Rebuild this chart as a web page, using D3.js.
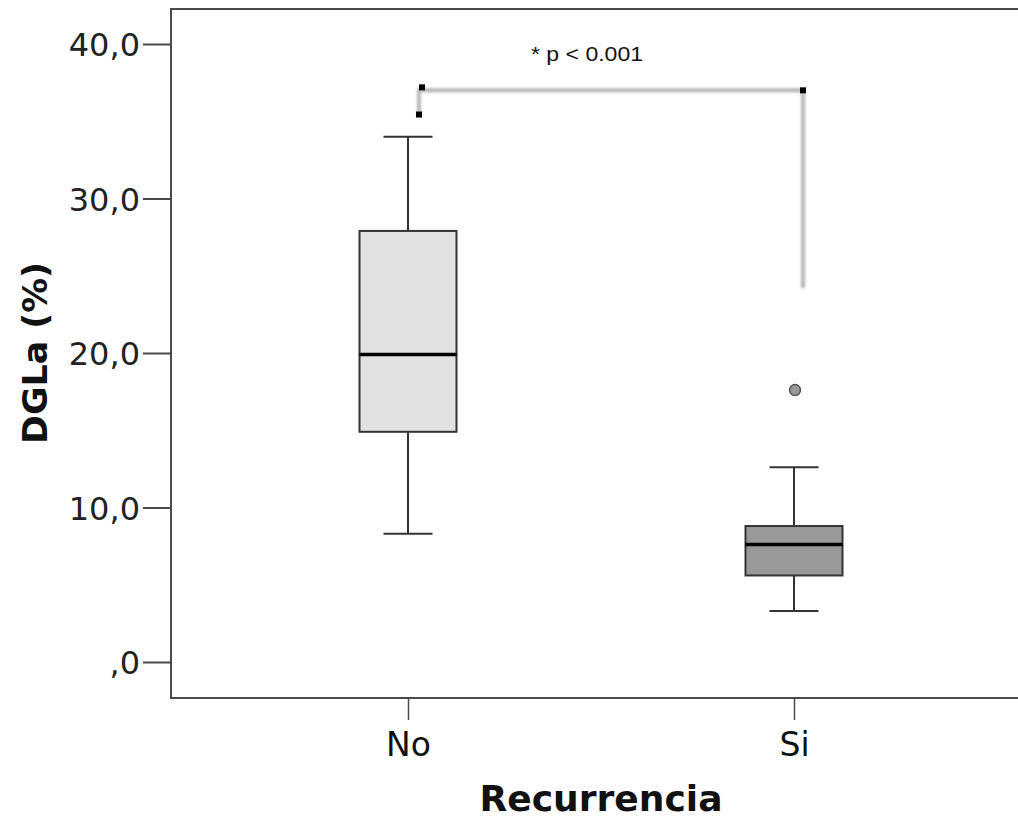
<!DOCTYPE html>
<html>
<head>
<meta charset="utf-8">
<script src="https://cdn.jsdelivr.net/npm/d3@7"></script>
<style>
  html, body { margin: 0; padding: 0; background: #fff; }
  svg { display: block; }
</style>
</head>
<body>
<svg id="chart" width="1018" height="822"></svg>
<script>
// ---- data ----
const categories = ["No", "Si"];
const whiskerLow  = [8.3, 3.3];
const q1          = [14.9, 5.6];
const median      = [19.9, 7.6];
const q3          = [27.9, 8.8];
const whiskerHigh = [34.0, 12.6];
const outliers    = [[], [17.6]];
const boxFills    = ["#e2e2e2", "#999999"];
const yTicks      = [0, 10, 20, 30, 40];
const yTickLabels = [",0", "10,0", "20,0", "30,0", "40,0"];
const yLabel = "DGLa (%)";
const xLabel = "Recurrencia";
const pText = "* p < 0.001";
const bracketLevel = 37.0;    // horizontal bracket height (data units)
const bracketRightLow = 24.2; // lower end of right vertical leg
const bracketLeftLow = 35.5;  // lower end of left leg

(function () {
const svg = d3.select("#chart");
const pLeft = 171, pRight = 1031, pTop = 9, pBottom = 698;

const y = d3.scaleLinear().domain([0, 40]).range([662, 44]);
const x = d3.scalePoint().domain(categories).range([pLeft, pRight]).padding(0.614);

// frame
svg.append("rect").attr("x", pLeft).attr("y", pTop)
  .attr("width", pRight - pLeft).attr("height", pBottom - pTop)
  .attr("fill", "none").attr("stroke", "#4a4a4a").attr("stroke-width", 2);

// y axis ticks
const yAxis = d3.axisLeft(y).tickValues(yTicks)
  .tickFormat((d, i) => yTickLabels[i]).tickSize(28).tickPadding(3);
const gy = svg.append("g").attr("transform", `translate(${pLeft},0)`).call(yAxis);
gy.select(".domain").remove();
gy.selectAll(".tick line").attr("stroke", "#4a4a4a").attr("stroke-width", 2);
gy.selectAll(".tick text").attr("fill", "#222").style("font-family", "DejaVu Sans")
  .style("font-size", "32px").attr("dy", "0.36em");

// x axis ticks
const xAxis = d3.axisBottom(x).tickSize(22).tickPadding(10);
const gx = svg.append("g").attr("transform", `translate(0,${pBottom})`).call(xAxis);
gx.select(".domain").remove();
gx.selectAll(".tick line").attr("stroke", "#4a4a4a").attr("stroke-width", 1.5);
gx.selectAll(".tick text").attr("fill", "#111").style("font-family", "DejaVu Sans")
  .style("font-size", "33px").attr("y", 35).attr("dy", "0.71em");

// axis titles
svg.append("text").attr("x", 601).attr("y", 811).attr("text-anchor", "middle")
  .style("font-family", "DejaVu Sans").style("font-weight", "bold").style("font-size", "36px")
  .attr("fill", "#111").attr("textLength", 243).attr("lengthAdjust", "spacingAndGlyphs").text(xLabel);
svg.append("text").attr("transform", "translate(47,353) rotate(-90)").attr("text-anchor", "middle")
  .style("font-family", "DejaVu Sans").style("font-weight", "bold").style("font-size", "34px")
  .attr("fill", "#111").attr("textLength", 182).attr("lengthAdjust", "spacingAndGlyphs").text(yLabel);

// boxes
const boxW = 97, capW = 49;
const g = svg.append("g");
categories.forEach((c, i) => {
  const cx = x(c);
  g.append("line").attr("x1", cx).attr("x2", cx).attr("y1", y(whiskerHigh[i])).attr("y2", y(q3[i]))
    .attr("stroke", "#333").attr("stroke-width", 2);
  g.append("line").attr("x1", cx).attr("x2", cx).attr("y1", y(q1[i])).attr("y2", y(whiskerLow[i]))
    .attr("stroke", "#333").attr("stroke-width", 2);
  [whiskerHigh[i], whiskerLow[i]].forEach(v => {
    g.append("line").attr("x1", cx - capW / 2).attr("x2", cx + capW / 2).attr("y1", y(v)).attr("y2", y(v))
      .attr("stroke", "#333").attr("stroke-width", 2);
  });
  g.append("rect").attr("x", cx - boxW / 2).attr("y", y(q3[i]))
    .attr("width", boxW).attr("height", y(q1[i]) - y(q3[i]))
    .attr("fill", boxFills[i]).attr("stroke", "#333").attr("stroke-width", 2);
  g.append("line").attr("x1", cx - boxW / 2).attr("x2", cx + boxW / 2).attr("y1", y(median[i])).attr("y2", y(median[i]))
    .attr("stroke", "#000").attr("stroke-width", 3.5);
  outliers[i].forEach(v => {
    g.append("circle").attr("cx", cx + 1).attr("cy", y(v)).attr("r", 5.5)
      .attr("fill", "#999").attr("stroke", "#555").attr("stroke-width", 1.5);
  });
});

// significance bracket
const defs = svg.append("defs");
defs.append("filter").attr("id", "blur").append("feGaussianBlur").attr("stdDeviation", 0.8);
const bxL = x("No") + 11, bxR = x("Si") + 9;
svg.append("path")
  .attr("d", `M${bxL},${y(bracketLeftLow)} L${bxL},${y(bracketLevel)} L${bxR},${y(bracketLevel)} L${bxR},${y(bracketRightLow)}`)
  .attr("fill", "none").attr("stroke", "#bdbdbd").attr("stroke-width", 4.5).attr("filter", "url(#blur)");
[[bxL + 3, y(bracketLevel) - 3], [bxL, y(bracketLeftLow) + 1], [bxR, y(bracketLevel)]].forEach(p => {
  svg.append("rect").attr("x", p[0] - 3).attr("y", p[1] - 3).attr("width", 6).attr("height", 6).attr("fill", "#000");
});
svg.append("text").attr("x", 587).attr("y", 61).attr("text-anchor", "middle")
  .style("font-family", "Liberation Sans, Arial, sans-serif").style("font-size", "21px")
  .attr("fill", "#111").attr("textLength", 112).attr("lengthAdjust", "spacingAndGlyphs").text(pText);
})();
</script>
</body>
</html>
